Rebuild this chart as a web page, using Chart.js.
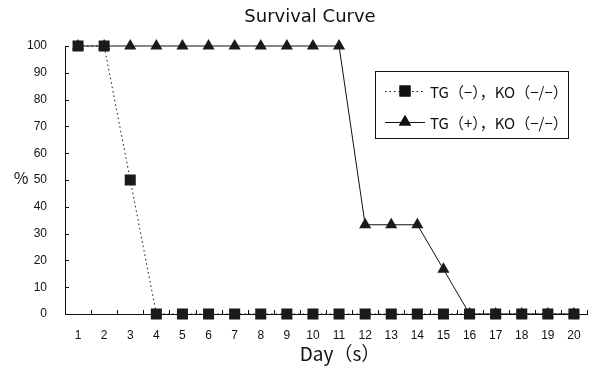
<!DOCTYPE html>
<html>
<head>
<meta charset="utf-8">
<script src="https://cdn.jsdelivr.net/npm/chart.js@4.4.1/dist/chart.umd.min.js"></script>
<style>
  html, body { margin: 0; padding: 0; background: #fff; }
</style>
</head>
<body>
<canvas id="chart" width="598" height="368"></canvas>
<script>
// survival (%) per day for each group
const days = ['1','2','3','4','5','6','7','8','9','10','11','12','13','14','15','16','17','18','19','20'];
const tgNegKo = [100, 100, 50, 0, 0, 0, 0, 0, 0, 0, 0, 0, 0, 0, 0, 0, 0, 0, 0, 0];
const tgPosKo = [100, 100, 100, 100, 100, 100, 100, 100, 100, 100, 100, 33.3, 33.3, 33.3, 16.7, 0, 0, 0, 0, 0];
const seriesNames = ['TG（−），KO（−/−）', 'TG（+），KO（−/−）'];
const yTicks = [0, 10, 20, 30, 40, 50, 60, 70, 80, 90, 100];

const INK = '#111';
const CJK = '"Noto Sans CJK JP", "Noto Sans", sans-serif';

// title, axis captions, inner tick marks and the boxed legend
const decorations = {
  id: 'decorations',
  afterDraw(chart) {
    const { ctx, chartArea: a, scales: { x, y } } = chart;
    ctx.save();
    ctx.strokeStyle = INK;
    ctx.lineWidth = 1;

    // inner ticks: y at each value, x at category boundaries
    ctx.beginPath();
    yTicks.forEach(v => {
      const py = Math.round(y.getPixelForValue(v)) + 0.5;
      ctx.moveTo(a.left, py);
      ctx.lineTo(a.left + 4, py);
    });
    const step = (a.right - a.left) / days.length;
    for (let i = 1; i <= days.length; i++) {
      const px = Math.round(a.left + step * i) + 0.5;
      ctx.moveTo(px, a.bottom);
      ctx.lineTo(px, a.bottom - 4);
    }
    ctx.stroke();

    ctx.fillStyle = INK;
    ctx.textAlign = 'center';
    ctx.textBaseline = 'middle';
    ctx.font = '18px "DejaVu Sans", sans-serif';
    ctx.fillText('Survival Curve', 310, 17);
    ctx.font = '16px ' + CJK;
    ctx.fillText('%', 21, 178);
    ctx.font = '19px ' + CJK;
    ctx.fillText('Day（s）', 340, 354);

    // legend box
    ctx.strokeRect(375.5, 71.5, 193, 67);
    const rows = [91, 122];
    chart.data.datasets.forEach((ds, i) => {
      const ry = rows[i] + 0.5;
      ctx.beginPath();
      ctx.setLineDash(ds.borderDash || []);
      ctx.moveTo(385, ry);
      ctx.lineTo(425, ry);
      ctx.stroke();
      ctx.setLineDash([]);
      Chart.helpers.drawPoint(ctx, {
        pointStyle: ds.pointStyle,
        radius: ds.pointRadius,
        borderWidth: 0
      }, 405, rows[i]);
      ctx.fillStyle = INK;
      ctx.fill();
      ctx.textAlign = 'left';
      ctx.font = '15px ' + CJK;
      ctx.fillText(ds.label, 430, rows[i] + 1);
    });
    ctx.restore();
  }
};

new Chart(document.getElementById('chart'), {
  type: 'line',
  data: {
    labels: days,
    datasets: [
      {
        label: seriesNames[0],
        data: tgNegKo,
        borderColor: INK,
        borderWidth: 1,
        borderDash: [1.5, 3],
        pointStyle: 'rect',
        pointRadius: 7.8,
        pointBackgroundColor: '#1a1a1a',
        pointBorderWidth: 0,
        clip: false
      },
      {
        label: seriesNames[1],
        data: tgPosKo,
        borderColor: INK,
        borderWidth: 1,
        pointStyle: 'triangle',
        pointRadius: 7,
        pointBackgroundColor: '#1a1a1a',
        pointBorderWidth: 0,
        clip: false
      }
    ]
  },
  options: {
    responsive: false,
    animation: false,
    layout: { padding: { top: 46, right: 11, left: 0, bottom: 0 } },
    plugins: {
      legend: { display: false },
      title: { display: false },
      tooltip: { enabled: false }
    },
    scales: {
      x: {
        type: 'category',
        offset: true,
        grid: { display: false, offset: true },
        border: { display: true, color: INK, width: 1 },
        ticks: {
          color: INK,
          padding: 6,
          maxRotation: 0,
          autoSkip: false,
          font: { family: '"Liberation Sans", Arial, sans-serif', size: 12 }
        },
        afterFit(scale) { scale.height = 54; }
      },
      y: {
        min: 0,
        max: 100,
        afterBuildTicks(scale) { scale.ticks = yTicks.map(v => ({ value: v })); },
        grid: { display: false },
        border: { display: true, color: INK, width: 1 },
        ticks: {
          color: INK,
          padding: 10,
          autoSkip: false,
          font: { family: '"Liberation Sans", Arial, sans-serif', size: 12 }
        },
        afterFit(scale) { scale.width = 65; }
      }
    }
  },
  plugins: [decorations]
});
</script>
</body>
</html>
